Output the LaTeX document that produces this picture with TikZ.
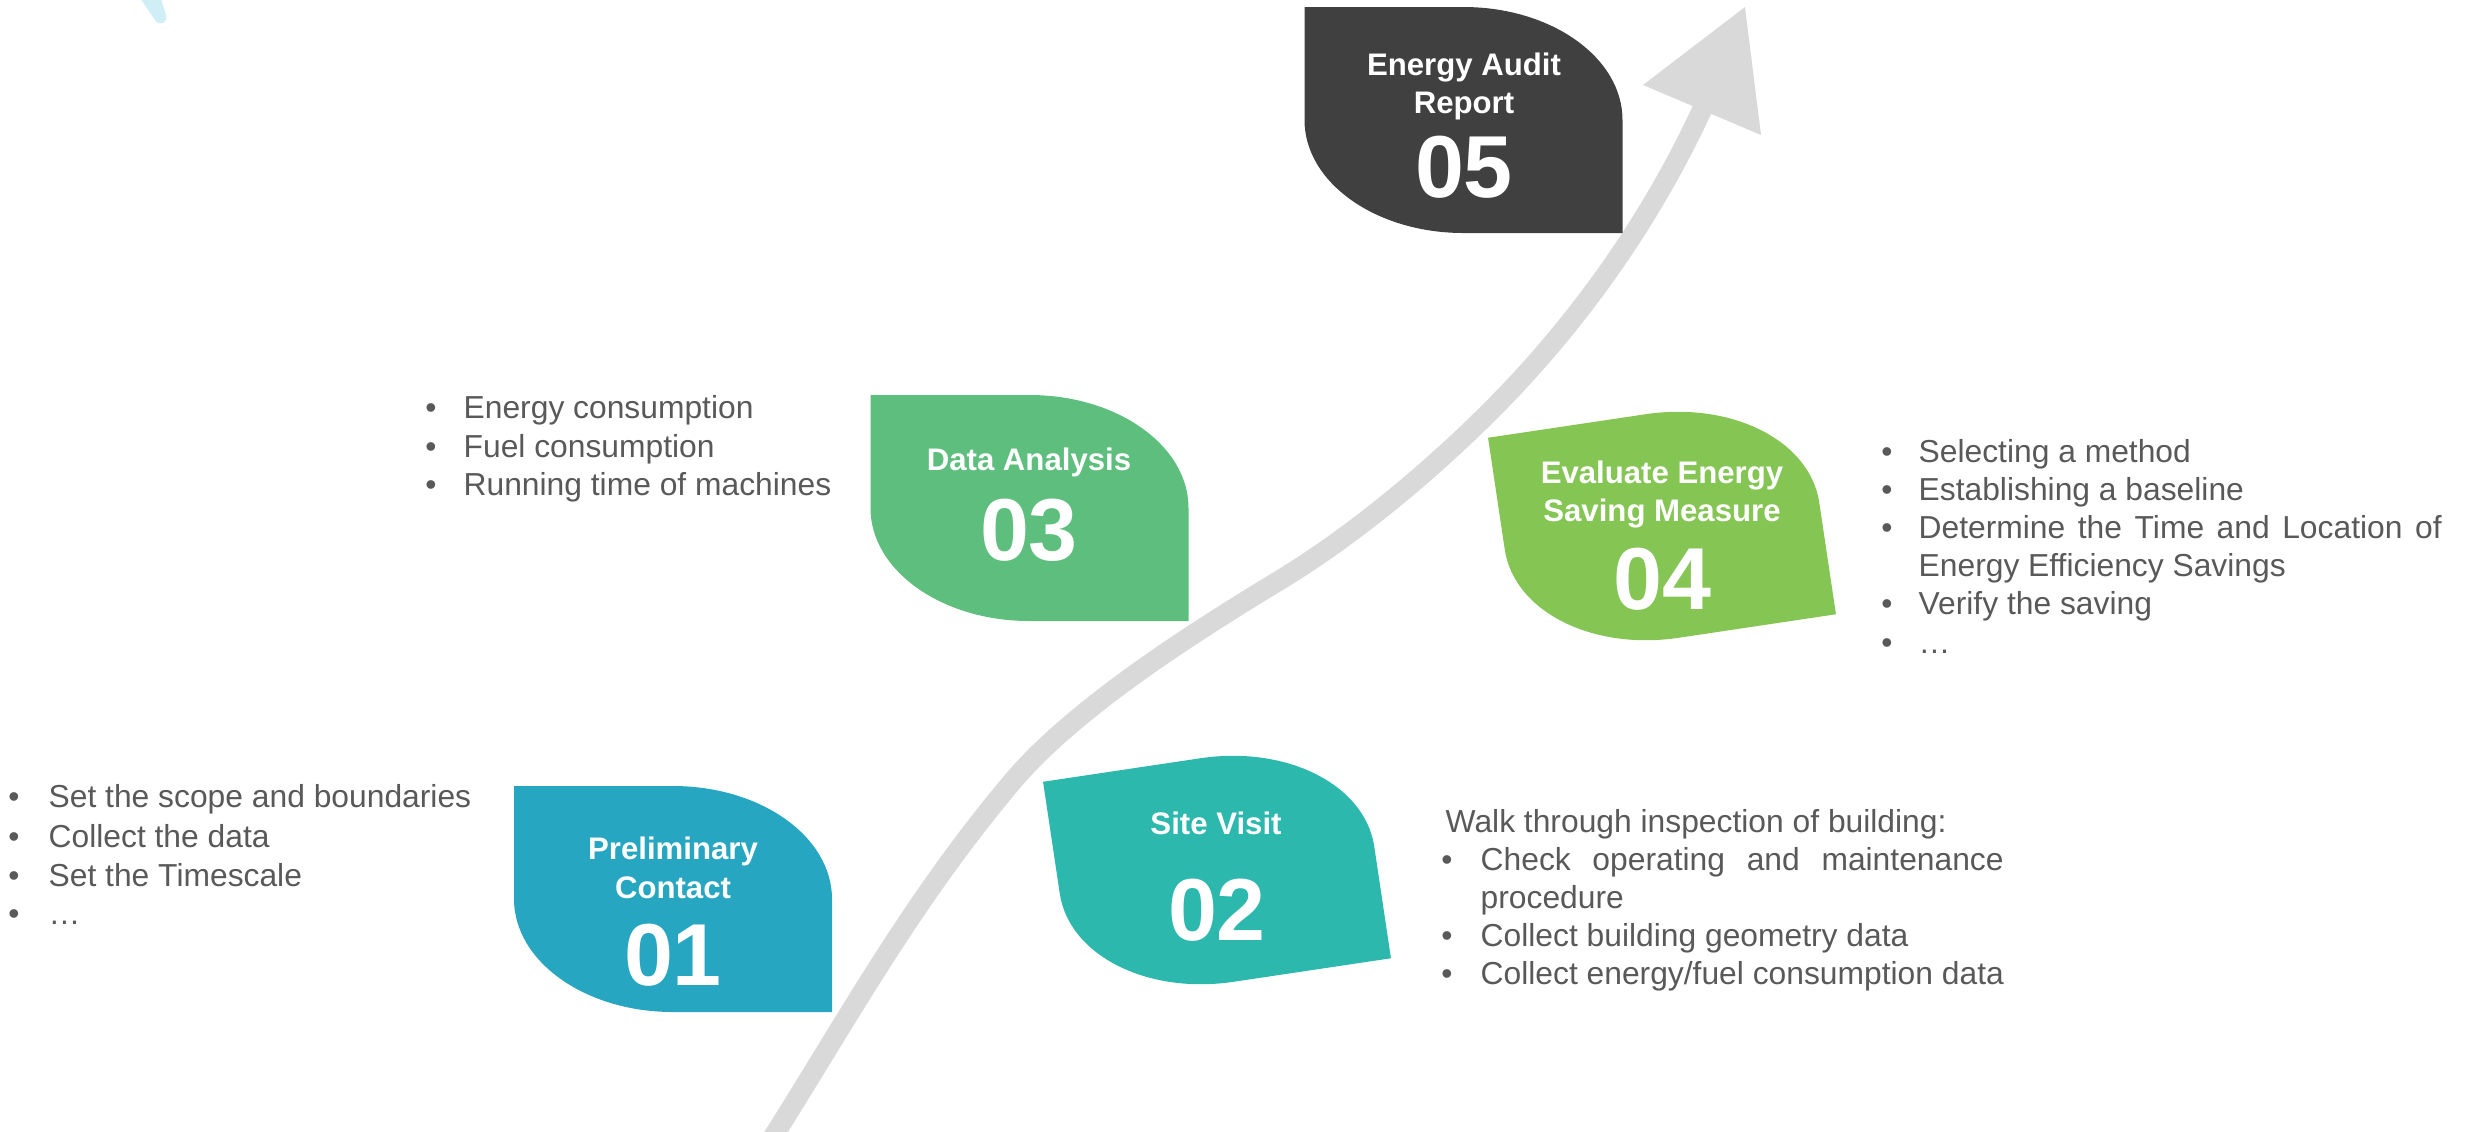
\documentclass[tikz,border=0pt]{standalone}
\usepackage{fontspec}
\setmainfont{Liberation Sans}
\definecolor{cOne}{HTML}{26A6C1}
\definecolor{cTwo}{HTML}{2DB8AE}
\definecolor{cThree}{HTML}{5DBE7E}
\definecolor{cFour}{HTML}{84C553}
\definecolor{cFive}{HTML}{404040}
\definecolor{arrowgray}{HTML}{D9D9D9}
\definecolor{bodygray}{HTML}{595959}
\definecolor{paleCyan}{HTML}{CFEEF5}
\tikzset{
  leaf/.pic={\fill[#1] (-159,-113) -- (0,-113) .. controls (87.8,-113) and (159,-62.4) .. (159,0)
     -- (159,113) -- (0,113) .. controls (-87.8,113) and (-159,62.4) .. (-159,0) -- cycle;},
  body/.style={font=\fontsize{9.54}{11.4}\selectfont, text=bodygray, inner sep=0pt, anchor=base west},
  bul/.style={font=\fontsize{9.54}{11.4}\selectfont, text=bodygray, inner sep=0pt, anchor=base},
  ttl/.style={font=\fontsize{9.35}{11}\selectfont\bfseries, text=white, inner sep=0pt, anchor=base},
  num/.style={font=\fontsize{26.4}{30}\selectfont\bfseries, text=white, inner sep=0pt, anchor=base},
  flow/.style={arrowgray, line width=6pt},
}
\begin{document}
\begin{tikzpicture}[x=0.3pt,y=-0.3pt]
\useasboundingbox (0,0) rectangle (2471,1131);
\begin{scope}
\clip (0,0) rectangle (2471,1131);
% faint stroke top-left
\fill[paleCyan] (138,-5) -- (155,20) .. controls (159,26) and (168,24) .. (166,15) -- (160,-5) -- cycle;
% growth arrow
\coordinate (start) at (771,1140);
\coordinate (base) at (1706,101);
\draw[flow] (start) .. controls (847,1020) and (911,902) .. (1012,782)
  .. controls (1075,707) and (1197.5,630) .. (1280,580)
  .. controls (1362.5,530) and (1448,456) .. (1510,391)
  .. controls (1600,296) and (1663,196) .. (base);
\fill[arrowgray] (1745,7) -- (1643,85) -- (1761,135) -- cycle;
% leaves
\pic at (673,899) {leaf=cOne};
\pic[rotate=8.5] at (1217,870) {leaf=cTwo};
\pic at (1029.5,508) {leaf=cThree};
\pic[rotate=8.5] at (1662,526) {leaf=cFour};
\pic at (1463.5,120) {leaf=cFive};
\end{scope}
% titles and numbers
\node[ttl] (n1a) at (673,859) {Preliminary};
\node[ttl] (n1b) at (673,898) {Contact};
\node[num] (n1) at (673,985) {01};
\node[ttl] (n2a) at (1216,834) {Site Visit};
\node[num] (n2) at (1217,940) {02};
\node[ttl] (n3a) at (1029,470) {Data Analysis};
\node[num] (n3) at (1029,560) {03};
\node[ttl] (n4a) at (1662,483) {Evaluate Energy};
\node[ttl] (n4b) at (1662,521) {Saving Measure};
\node[num] (n4) at (1662,609) {04};
\node[ttl] (n5a) at (1464,75) {Energy Audit};
\node[ttl] (n5b) at (1464,113) {Report};
\node[num] (n5) at (1464,197) {05};
% block 01
\node[bul] (b1a) at (14,807) {•};
\node[body] (t1a) at (48,807) {Set the scope and boundaries};
\node[bul] (b1b) at (14,847) {•};
\node[body] (t1b) at (48,847) {Collect the data};
\node[bul] (b1c) at (14,886) {•};
\node[body] (t1c) at (48,886) {Set the Timescale};
\node[bul] (b1d) at (14,924) {•};
\node[body] (t1d) at (48,924) {…};
% block 03
\node[bul] (b3a) at (431,418) {•};
\node[body] (t3a) at (463,418) {Energy consumption};
\node[bul] (b3b) at (431,457) {•};
\node[body] (t3b) at (463,457) {Fuel consumption};
\node[bul] (b3c) at (431,495) {•};
\node[body] (t3c) at (463,495) {Running time of machines};
% block 04
\node[bul] (b4a) at (1887,462) {•};
\node[body] (t4a) at (1918,462) {Selecting a method};
\node[bul] (b4b) at (1887,500) {•};
\node[body] (t4b) at (1918,500) {Establishing a baseline};
\node[bul] (b4c) at (1887,538) {•};
\node[body] (t4c) at (1918,538) {\makebox[156.9pt][s]{Determine the Time and Location of}};
\node[body] (t4d) at (1918,576) {Energy Efficiency Savings};
\node[bul] (b4e) at (1887,614) {•};
\node[body] (t4e) at (1918,614) {Verify the saving};
\node[bul] (b4f) at (1887,653) {•};
\node[body] (t4f) at (1918,653) {…};
% block 02
\node[body] (t2h) at (1445,832) {Walk through inspection of building:};
\node[bul] (b2a) at (1447,870) {•};
\node[body] (t2a) at (1480,870) {\makebox[156.9pt][s]{Check operating and maintenance}};
\node[body] (t2b) at (1480,908) {procedure};
\node[bul] (b2c) at (1447,946) {•};
\node[body] (t2c) at (1480,946) {Collect building geometry data};
\node[bul] (b2d) at (1447,984) {•};
\node[body] (t2d) at (1480,984) {Collect energy/fuel consumption data};
\end{tikzpicture}
\end{document}
